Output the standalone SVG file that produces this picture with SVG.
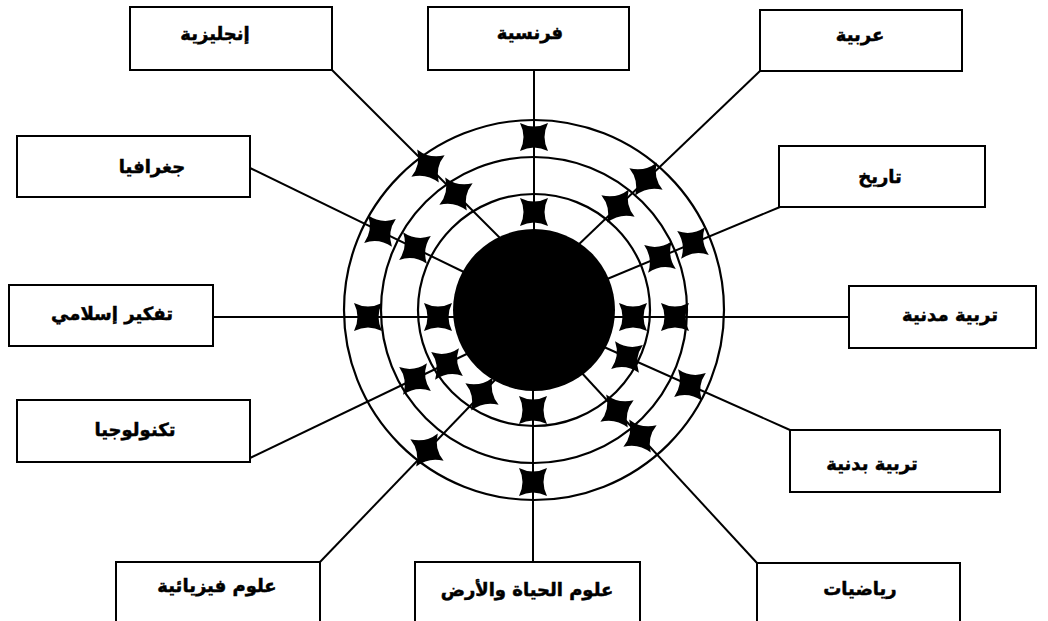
<svg xmlns="http://www.w3.org/2000/svg" width="1048" height="621" viewBox="0 0 1048 621">
  <style>
    .box rect { fill: #fff; stroke: #000; stroke-width: 2; }
    .box text { font-family: "DejaVu Sans", "Noto Sans", sans-serif; font-weight: bold; font-size: 18px; fill: #000; stroke: #000; stroke-width: 0.5; text-anchor: middle; dominant-baseline: central; }
    .spoke { stroke: #000; stroke-width: 2; fill: none; }
    .ring { stroke: #000; stroke-width: 2.2; fill: none; }
  </style>
  <defs>
    <!-- four-pointed star with slightly concave sides, tips on the diagonals -->
    <path id="star" d="M-14,-14 Q0,-7 14,-14 Q7,0 14,14 Q0,7 -14,14 Q-7,0 -14,-14 Z" fill="#000"/>
  </defs>

  <rect width="1048" height="621" fill="#fff"/>

  <!-- connectors: spokes from each subject box toward the core -->
  <g id="connectors">
    <line class="spoke" x1="332" y1="70" x2="505" y2="243"/>
    <line class="spoke" x1="534" y1="70" x2="534" y2="250"/>
    <line class="spoke" x1="760" y1="71" x2="575" y2="248"/>
    <line class="spoke" x1="780" y1="207" x2="600" y2="282"/>
    <line class="spoke" x1="849" y1="317" x2="600" y2="317"/>
    <line class="spoke" x1="790" y1="430" x2="595" y2="343"/>
    <line class="spoke" x1="757" y1="563" x2="580" y2="371"/>
    <line class="spoke" x1="533" y1="562" x2="533" y2="370"/>
    <line class="spoke" x1="320" y1="562" x2="495" y2="380"/>
    <line class="spoke" x1="250" y1="458" x2="475" y2="350"/>
    <line class="spoke" x1="213" y1="317" x2="470" y2="317"/>
    <line class="spoke" x1="250" y1="168" x2="470" y2="275"/>
  </g>

  <!-- concentric rings and the solid core -->
  <g id="target">
    <circle class="ring" cx="534" cy="310" r="190"/>
    <circle class="ring" cx="534" cy="310" r="153"/>
    <circle class="ring" cx="534" cy="310" r="116"/>
    <circle cx="534" cy="310" r="81" fill="#000"/>
  </g>

  <!-- star markers along the spokes -->
  <g id="stars">
    <use href="#star" transform="translate(428,166) rotate(12)"/>
    <use href="#star" transform="translate(456,194) rotate(12)"/>
    <use href="#star" transform="translate(534,137)"/>
    <use href="#star" transform="translate(534,212)"/>
    <use href="#star" transform="translate(646,179) rotate(-12)"/>
    <use href="#star" transform="translate(618,206) rotate(-12)"/>
    <use href="#star" transform="translate(693,243) rotate(-8)"/>
    <use href="#star" transform="translate(660,257) rotate(-8)"/>
    <use href="#star" transform="translate(675,317)"/>
    <use href="#star" transform="translate(633,317)"/>
    <use href="#star" transform="translate(690,385) rotate(8)"/>
    <use href="#star" transform="translate(627,357) rotate(8)"/>
    <use href="#star" transform="translate(640,436) rotate(12)"/>
    <use href="#star" transform="translate(617,411) rotate(12)"/>
    <use href="#star" transform="translate(533,482)"/>
    <use href="#star" transform="translate(533,410)"/>
    <use href="#star" transform="translate(427,450) rotate(-12)"/>
    <use href="#star" transform="translate(482,394) rotate(-12)"/>
    <use href="#star" transform="translate(415,379) rotate(-8)"/>
    <use href="#star" transform="translate(447,364) rotate(-8)"/>
    <use href="#star" transform="translate(368,317)"/>
    <use href="#star" transform="translate(438,317)"/>
    <use href="#star" transform="translate(380,231) rotate(8)"/>
    <use href="#star" transform="translate(415,248) rotate(8)"/>
  </g>

  <!-- subject boxes -->
  <g id="english" class="box"><rect x="130" y="7" width="202" height="63"/><text x="215" y="33">إنجليزية</text></g>
  <g id="french" class="box"><rect x="428" y="7" width="201" height="63"/><text x="530" y="32">فرنسية</text></g>
  <g id="arabic" class="box"><rect x="760" y="10" width="202" height="61"/><text x="860" y="34">عربية</text></g>
  <g id="history" class="box"><rect x="779" y="146" width="206" height="61"/><text x="880" y="176">تاريخ</text></g>
  <g id="civic" class="box"><rect x="849" y="286" width="187" height="62"/><text x="950" y="314">تربية مدنية</text></g>
  <g id="physical" class="box"><rect x="790" y="430" width="210" height="62"/><text x="872" y="463">تربية بدنية</text></g>
  <g id="math" class="box"><rect x="757" y="563" width="203" height="70"/><text x="860" y="588">رياضيات</text></g>
  <g id="life-earth" class="box"><rect x="415" y="562" width="225" height="70"/><text x="527" y="589">علوم الحياة والأرض</text></g>
  <g id="physics" class="box"><rect x="116" y="562" width="204" height="70"/><text x="217" y="585">علوم فيزيائية</text></g>
  <g id="technology" class="box"><rect x="17" y="400" width="233" height="62"/><text x="135" y="429">تكنولوجيا</text></g>
  <g id="islamic" class="box"><rect x="9" y="285" width="204" height="61"/><text x="112" y="313">تفكير إسلامي</text></g>
  <g id="geography" class="box"><rect x="17" y="136" width="233" height="61"/><text x="152" y="166">جغرافيا</text></g>
</svg>
